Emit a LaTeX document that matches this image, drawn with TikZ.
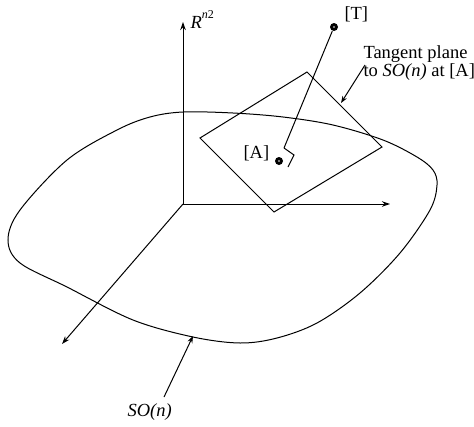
\documentclass[tikz,border=0pt]{standalone}
\usepackage{fontspec}
\setmainfont{Liberation Serif}
\usetikzlibrary{arrows.meta}
\begin{document}
\begin{tikzpicture}[x=1pt,y=-1pt,
  line width=1pt,
  ax/.style={-{Stealth[length=8pt,width=5.5pt]}},
  pointer/.style={-{Stealth[length=7pt,width=5pt]}},
  lbl/.style={font=\fontsize{18.5}{14}\selectfont, inner sep=0pt},
  dotmark/.style={circle, fill=black, inner sep=0pt, minimum size=8pt}
]
\useasboundingbox (0,0) rectangle (474,426);
% axes
\coordinate (O) at (183,204);
\coordinate (Ztip) at (183,22);
\coordinate (Xtip) at (390,204);
\coordinate (Ytip) at (62,344);
\draw[ax] (O) -- (Ztip);
\draw[ax] (O) -- (Xtip);
\draw[ax] (O) -- (Ytip);
\node[lbl, anchor=base west] (Rlbl) at (190,28) {\textit{R}\raisebox{0.5em}{\fontsize{12}{12}\selectfont\textit{n}2}};
% tangent plane
\coordinate (P1) at (307,72);
\coordinate (P2) at (382,147);
\coordinate (P3) at (274,212);
\coordinate (P4) at (200,138);
\draw[line join=miter] (P1) -- (P2) -- (P3) -- (P4) -- cycle;
% SO(n) surface
\draw plot[smooth cycle, tension=0.55] coordinates {
  (183,112) (233,113) (283,117) (333,125) (383,140) (417,157) (433,170)
  (437,185) (430,210) (400,253) (360,293) (317,323) (277,338) (240,343)
  (193,337) (133,320) (67,287) (20,263) (8,240) (20,210) (67,160)
  (117,130) (150,117)};
% points
\node[dotmark] (T) at (334,27) {};
\node[dotmark] (A) at (279,161) {};
\fill[gray!70] (T) circle (1.1pt);
\fill[gray!70] (A) circle (1.1pt);
\node[lbl, anchor=base west] (Tlbl) at (344,19) {[T]};
\node[lbl, anchor=base west] (Albl) at (243,158) {[A]};
% normal line and right-angle mark
\coordinate (Afoot) at (284,148);
\coordinate (M1) at (294,155);
\coordinate (M2) at (288,167);
\draw (T) -- (Afoot);
\draw[line join=miter] (Afoot) -- (M1) -- (M2);
% labels with pointers
\node[lbl, align=left, anchor=base west] (tan) at (363,76) {Tangent plane\\to \textit{SO(n)} at [A]};
\coordinate (TanStart) at (365,65);
\coordinate (TanTip) at (341,103);
\draw[pointer] (TanStart) -- (TanTip);
\node[lbl, anchor=base west] (SOlbl) at (127,416) {\textit{SO(n)}};
\coordinate (SOStart) at (164,397);
\coordinate (SOTip) at (193,336);
\draw[pointer] (SOStart) -- (SOTip);
\end{tikzpicture}
\end{document}
